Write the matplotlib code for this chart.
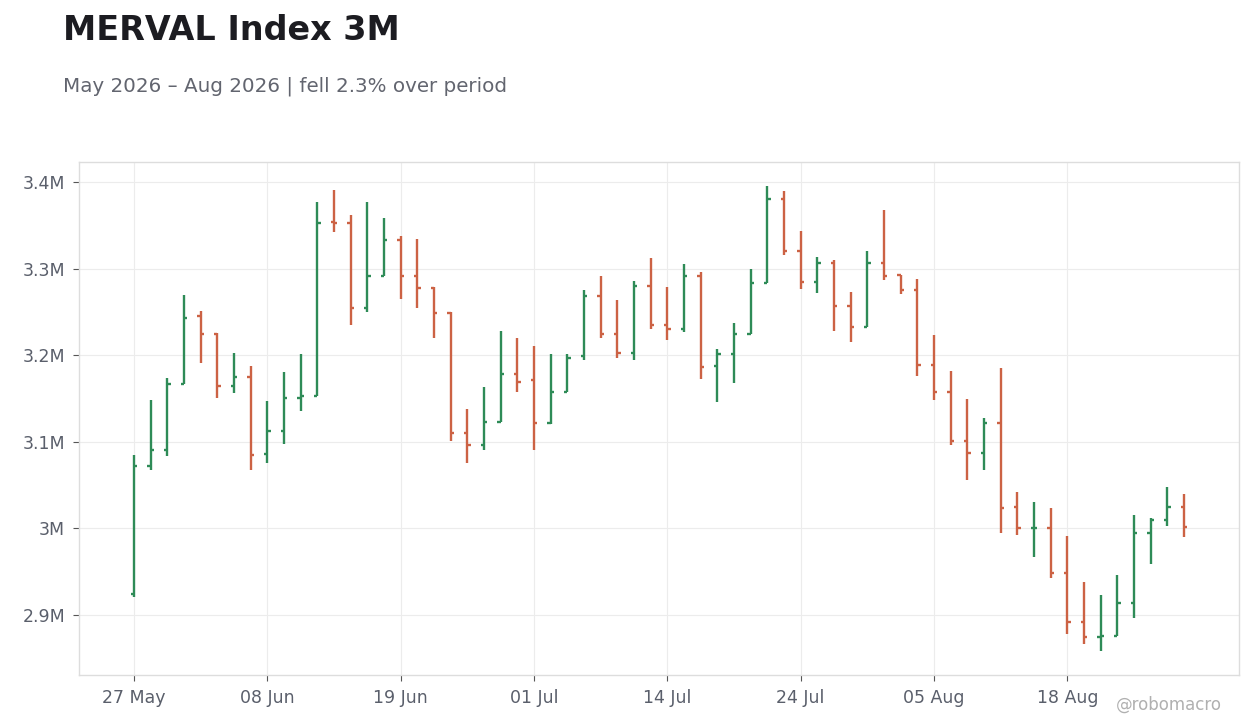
import matplotlib.pyplot as plt
import pandas as pd
import numpy as np

# trading days (weekdays minus local holidays)
holidays = ['2026-06-15', '2026-07-09', '2026-08-17']
days = pd.bdate_range('2026-05-27', '2026-08-27')
days = days[~days.isin(pd.to_datetime(holidays))]

# OHLC in millions
opens = [2.924, 3.072, 3.090, 3.167, 3.245, 3.225, 3.165, 3.175, 3.086, 3.113,
         3.151, 3.153, 3.354, 3.353, 3.255, 3.292, 3.333, 3.292, 3.278, 3.249,
         3.110, 3.096, 3.123, 3.178, 3.171, 3.122, 3.158, 3.199, 3.268, 3.225,
         3.203, 3.280, 3.235, 3.230, 3.292, 3.188, 3.201, 3.224, 3.283, 3.380,
         3.320, 3.284, 3.306, 3.257, 3.233, 3.306, 3.293, 3.275, 3.189, 3.157,
         3.101, 3.087, 3.122, 3.025, 3.000, 3.001, 2.948, 2.892, 2.875, 2.876,
         2.914, 2.995, 3.010, 3.025]
highs = [3.085, 3.148, 3.174, 3.269, 3.251, 3.226, 3.203, 3.188, 3.147, 3.181,
         3.201, 3.377, 3.391, 3.362, 3.377, 3.358, 3.338, 3.334, 3.279, 3.250,
         3.138, 3.163, 3.228, 3.220, 3.211, 3.201, 3.201, 3.275, 3.292, 3.264,
         3.286, 3.312, 3.279, 3.305, 3.296, 3.207, 3.237, 3.300, 3.395, 3.390,
         3.343, 3.313, 3.310, 3.273, 3.320, 3.368, 3.293, 3.288, 3.223, 3.182,
         3.149, 3.128, 3.185, 3.042, 3.031, 3.024, 2.991, 2.938, 2.923, 2.946,
         3.016, 3.012, 3.048, 3.040]
lows = [2.921, 3.068, 3.084, 3.167, 3.191, 3.151, 3.156, 3.067, 3.076, 3.097,
        3.135, 3.153, 3.342, 3.235, 3.250, 3.291, 3.265, 3.255, 3.220, 3.101,
        3.075, 3.091, 3.123, 3.157, 3.091, 3.121, 3.157, 3.195, 3.220, 3.197,
        3.194, 3.230, 3.218, 3.227, 3.172, 3.146, 3.168, 3.224, 3.283, 3.316,
        3.276, 3.272, 3.228, 3.215, 3.232, 3.287, 3.271, 3.176, 3.148, 3.096,
        3.056, 3.068, 2.995, 2.992, 2.967, 2.943, 2.878, 2.866, 2.858, 2.876,
        2.897, 2.959, 3.003, 2.990]
closes = [3.072, 3.090, 3.167, 3.243, 3.225, 3.165, 3.175, 3.085, 3.113, 3.151,
          3.153, 3.353, 3.353, 3.255, 3.292, 3.333, 3.292, 3.278, 3.249, 3.110,
          3.096, 3.123, 3.178, 3.169, 3.122, 3.158, 3.197, 3.268, 3.225, 3.203,
          3.280, 3.235, 3.230, 3.292, 3.186, 3.201, 3.224, 3.283, 3.380, 3.320,
          3.284, 3.306, 3.257, 3.233, 3.306, 3.292, 3.275, 3.189, 3.157, 3.101,
          3.087, 3.122, 3.023, 3.000, 3.001, 2.948, 2.892, 2.875, 2.876, 2.914,
          2.995, 3.010, 3.025, 3.002]

up_col = '#2e8b57'
down_col = '#cc6244'

fig = plt.figure(figsize=(12.6, 7.28), dpi=100)
ax = fig.add_axes([79 / 1260, 1 - 675 / 728, 1160 / 1260, 513 / 728])

x = np.arange(len(days))
o = np.array(opens) * 1e6
h = np.array(highs) * 1e6
l = np.array(lows) * 1e6
c = np.array(closes) * 1e6
cols = [up_col if cc >= oo else down_col for oo, cc in zip(o, c)]
tick = 0.2

ax.vlines(x, l, h, colors=cols, linewidth=1.7, zorder=3)
ax.hlines(o, x - tick, x, colors=cols, linewidth=1.7, zorder=3)
ax.hlines(c, x, x + tick, colors=cols, linewidth=1.7, zorder=3)

ax.set_xlim(-3.3, 66.3)
ax.set_ylim(2.8307e6, 3.4231e6)

xt = x[::8]
ax.set_xticks(xt)
ax.set_xticklabels([d.strftime('%d %b') for d in days[::8]])
yt = [2.9e6, 3.0e6, 3.1e6, 3.2e6, 3.3e6, 3.4e6]
ax.set_yticks(yt)
ax.set_yticklabels(['2.9M', '3M', '3.1M', '3.2M', '3.3M', '3.4M'])

ax.grid(True, color='#ececec', linewidth=0.8, zorder=0)
ax.set_axisbelow(True)
for s in ax.spines.values():
    s.set_color('#dddddd')
    s.set_linewidth(1)
ax.tick_params(axis='both', colors='#555555', labelcolor='#5a5f6b',
               labelsize=12.5, length=4, width=0.8, pad=6)

fig.text(63 / 1260, 1 - 30 / 728, 'MERVAL Index 3M', fontsize=24,
         fontweight='bold', color='#1c1c21', va='center', ha='left')
fig.text(63 / 1260, 1 - 86 / 728, 'May 2026 – Aug 2026 | fell 2.3% over period',
         fontsize=14.3, color='#62656f', va='center', ha='left')
fig.text(1222 / 1260, 1 - 705 / 728, '@robomacro', fontsize=12,
         color='#b0b0b0', va='center', ha='right')

fig.savefig('out.png', dpi=100)
